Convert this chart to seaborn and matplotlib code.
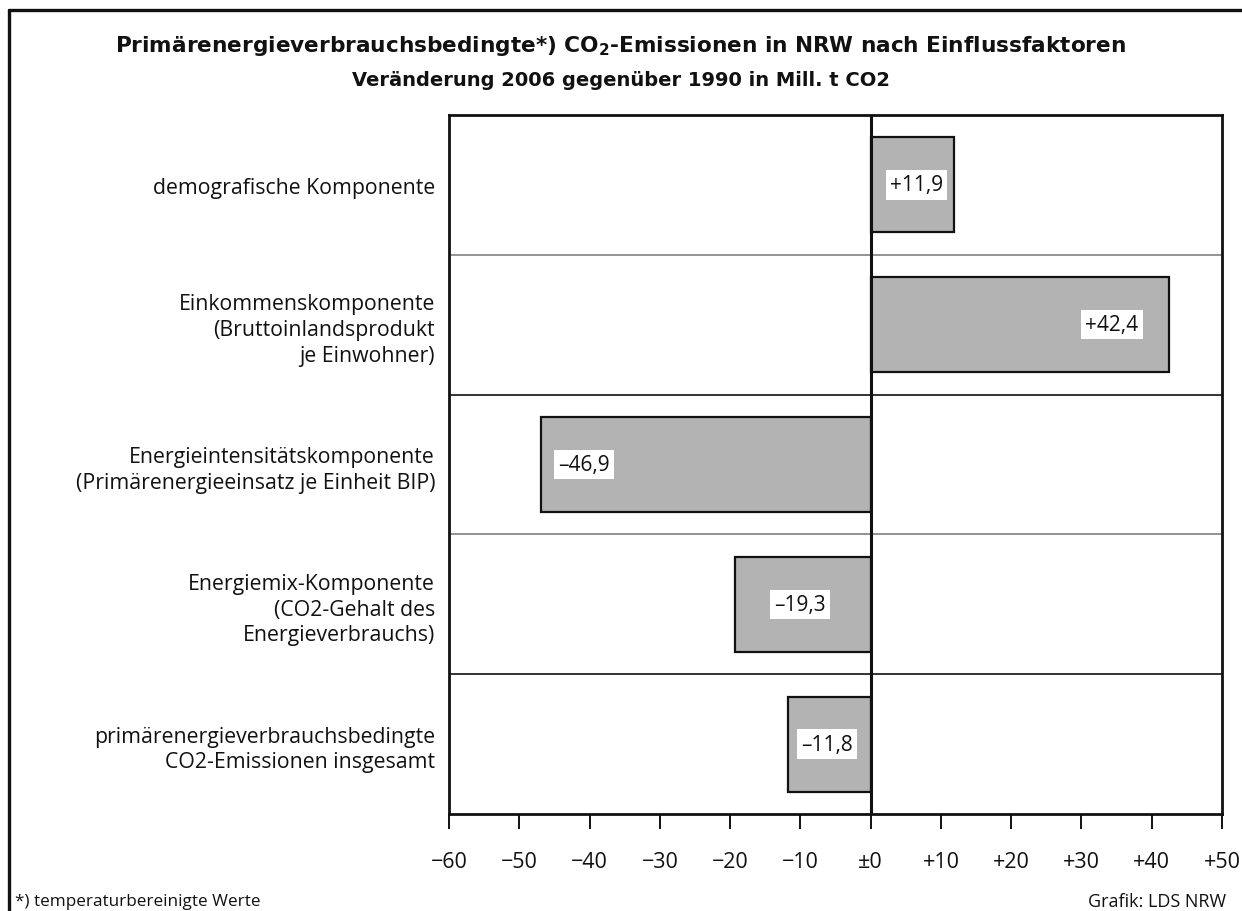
import matplotlib
matplotlib.use('Agg')
import matplotlib.pyplot as plt
import seaborn as sns
import pandas as pd
from matplotlib.lines import Line2D

# Data
categories = [
    'demografische Komponente',
    'Einkommenskomponente\n(Bruttoinlandsprodukt\nje Einwohner)',
    'Energieintensitätskomponente\n(Primärenergieeinsatz je Einheit BIP)',
    'Energiemix-Komponente\n(CO2-Gehalt des\nEnergieverbrauchs)',
    'primärenergieverbrauchsbedingte\nCO2-Emissionen insgesamt',
]
values = [11.9, 42.4, -46.9, -19.3, -11.8]
value_labels = ['+11,9', '+42,4', '\u201346,9', '\u201319,3', '\u201311,8']
# where the label sits along the bar (fraction of bar length)
label_frac = [0.55, 0.81, 0.87, 0.52, 0.53]
tick_values = [-60, -50, -40, -30, -20, -10, 0, 10, 20, 30, 40, 50]
tick_labels = ['\u221260', '\u221250', '\u221240', '\u221230', '\u221220', '\u221210',
               '\u00b10', '+10', '+20', '+30', '+40', '+50']

sns.set_theme(style='white')
plt.rcParams['font.family'] = ['Open Sans', 'DejaVu Sans']
plt.rcParams['mathtext.fontset'] = 'dejavusans'

TITLE_FONT = ['DejaVu Sans']
INK = '#111111'

df = pd.DataFrame({'cat': categories, 'val': values})

fig = plt.figure(figsize=(12.42, 9.12), dpi=100)
ax = fig.add_axes([449 / 1242, 1 - 815 / 912, 773 / 1242, 699 / 912])

sns.barplot(data=df, y='cat', x='val', orient='h', color='#b3b3b3',
            edgecolor=INK, linewidth=1.6, width=0.68, saturation=1, ax=ax)

ax.set_xlim(-60, 50)
ax.set_ylim(4.5, -0.5)
ax.set_xlabel('')
ax.set_ylabel('')

# row separators
sep_colors = ['#808080', INK, '#808080', INK]
for i, c in enumerate(sep_colors):
    ax.axhline(i + 0.5, color=c, lw=1.2, zorder=0.5)
ax.axvline(0, color=INK, lw=2.2, zorder=5)

for spine in ax.spines.values():
    spine.set_linewidth(2.0)
    spine.set_color(INK)

ax.set_xticks(tick_values)
ax.set_xticklabels(tick_labels, fontsize=15.5, color=INK)
ax.tick_params(axis='x', direction='out', length=11, width=1.4, color=INK,
               pad=16, bottom=True)
ax.tick_params(axis='y', length=0, pad=10)
for lab in ax.get_yticklabels():
    lab.set_fontsize(15.3)
    lab.set_color(INK)
    lab.set_linespacing(1.3)

for i, (v, lab, f) in enumerate(zip(values, value_labels, label_frac)):
    ax.text(v * f, i, lab, ha='center', va='center', fontsize=15, color=INK,
            bbox=dict(facecolor='white', edgecolor='none', pad=3), zorder=6)

fig.text(0.5, 1 - 46 / 912, r'Primärenergieverbrauchsbedingte*) CO$_{\mathbf{2}}$-Emissionen in NRW nach Einflussfaktoren',
         ha='center', va='center', fontsize=15.6, fontweight='bold', color=INK, family=TITLE_FONT)
fig.text(0.5, 1 - 81 / 912, 'Veränderung 2006 gegenüber 1990 in Mill. t CO2',
         ha='center', va='center', fontsize=14, fontweight='bold', color=INK, family=TITLE_FONT)

fig.text(15 / 1242, 1 - 902 / 912, '*) temperaturbereinigte Werte', ha='left', va='center',
         fontsize=12.3, color=INK)
fig.text(1226 / 1242, 1 - 902 / 912, 'Grafik: LDS NRW', ha='right', va='center',
         fontsize=13, color=INK)

# outer frame (left and top)
fig.add_artist(Line2D([8.5 / 1242, 8.5 / 1242], [0, 1 - 11 / 912], transform=fig.transFigure,
                      color=INK, lw=2.4))
fig.add_artist(Line2D([8.5 / 1242, 1], [1 - 11 / 912, 1 - 11 / 912], transform=fig.transFigure,
                      color=INK, lw=2.4))

fig.savefig('out.png', dpi=100, facecolor='white')
